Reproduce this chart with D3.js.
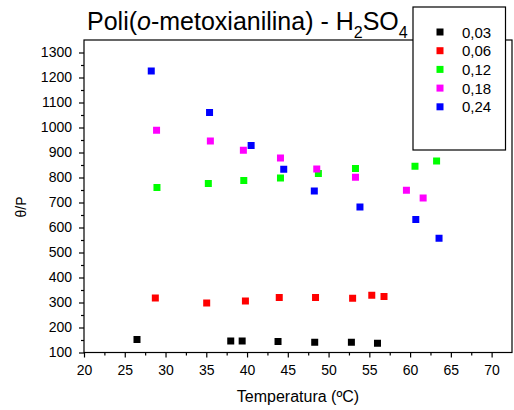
<!DOCTYPE html>
<html><head><meta charset="utf-8">
<script src="https://cdn.jsdelivr.net/npm/d3@7"></script>
<style>body{margin:0;background:#fff;} text{font-family:"Liberation Sans",Arial,sans-serif;}</style>
</head><body><svg id="c" width="514" height="410"></svg>
<script>
const seriesNames = ["0,03","0,06","0,12","0,18","0,24"];
const seriesColors = ["#000000","#ff0000","#00ff00","#ff00ff","#0000ff"];
const temp003 = [26.5,38.0,39.4,43.8,48.3,52.8,56.0];
const val003  = [152,146,146,144,141,141,137];
const temp006 = [28.75,35.05,39.8,43.95,48.4,52.95,55.3,56.8];
const val006  = [318,298,306,320,320,317,329,324];
const temp012 = [28.95,35.25,39.6,44.1,48.75,53.3,60.6,63.25];
const val012  = [760,776,788,798,816,836,845,866];
const temp018 = [28.9,35.5,39.55,44.1,48.55,53.3,59.55,61.6];
const val018  = [989,946,909,878,834,801,749,718];
const temp024 = [28.25,35.4,40.5,44.5,48.25,53.85,60.7,63.55];
const val024  = [1226,1060,928,833,746,682,632,557];
const xTicks = [20,25,30,35,40,45,50,55,60,65,70];
const yTicks = [100,200,300,400,500,600,700,800,900,1000,1100,1200,1300];

const temps = [temp003,temp006,temp012,temp018,temp024];
const vals = [val003,val006,val012,val018,val024];

const svg = d3.select("#c");
const L=84, R=512, T=40, B=352.5;
const x = d3.scaleLinear().domain([20,72.5]).range([L,R]);
const y = d3.scaleLinear().domain([100,1350]).range([B,T]);

// frame
svg.append("rect").attr("x",L).attr("y",T).attr("width",R-L).attr("height",B-T)
  .attr("fill","none").attr("stroke","#000").attr("stroke-width",1.2);

// x axis
const xa = svg.append("g").attr("transform",`translate(0,${B})`)
  .call(d3.axisBottom(x).tickValues(xTicks).tickSize(5).tickPadding(8).tickFormat(d3.format("d")));
xa.select(".domain").remove();
const xm = svg.append("g").attr("transform",`translate(0,${B})`)
  .call(d3.axisBottom(x).tickValues(d3.range(22.5,72.5,5)).tickSize(3).tickFormat(""));
xm.select(".domain").remove();
// y axis
const ya = svg.append("g").attr("transform",`translate(${L},0)`)
  .call(d3.axisLeft(y).tickValues(yTicks).tickSize(5).tickPadding(7).tickFormat(d3.format("d")));
ya.select(".domain").remove();
const ym = svg.append("g").attr("transform",`translate(${L},0)`)
  .call(d3.axisLeft(y).tickValues(d3.range(150,1350,100)).tickSize(3).tickFormat(""));
ym.select(".domain").remove();
svg.selectAll(".tick line").attr("stroke","#000").attr("stroke-width",1.2);
svg.selectAll(".tick text").attr("font-size",14).attr("fill","#000")
  .style("font-family","'Liberation Sans',Arial,sans-serif");

// labels
svg.append("text").attr("x",298).attr("y",402).attr("text-anchor","middle")
  .attr("font-size",16).text("Temperatura (ºC)");
svg.append("text").attr("transform","translate(26,207) rotate(-90)").attr("text-anchor","middle")
  .attr("font-size",14).text("θ/P");

// title
const t = svg.append("text").attr("x",87).attr("y",30).attr("font-size",25);
t.append("tspan").text("Poli(");
t.append("tspan").attr("font-style","italic").text("o");
t.append("tspan").text("-metoxianilina) - H");
t.append("tspan").attr("font-size",16).attr("dy",8).text("2");
t.append("tspan").attr("dy",-8).text("SO");
t.append("tspan").attr("font-size",16).attr("dy",8).text("4");

// points
const ms = 7;
temps.forEach((ts,i)=>{
  svg.append("g").selectAll("rect").data(ts.map((tv,j)=>[tv,vals[i][j]])).join("rect")
    .attr("x",d=>x(d[0])-ms/2).attr("y",d=>y(d[1])-ms/2).attr("width",ms).attr("height",ms)
    .attr("fill",seriesColors[i]);
});

// legend
const lg = svg.append("g");
lg.append("rect").attr("x",413).attr("y",7).attr("width",92.5).attr("height",143)
  .attr("fill","#fff").attr("stroke","#000").attr("stroke-width",1.2);
seriesNames.forEach((n,i)=>{
  const yy = 32 + i*18.7;
  lg.append("rect").attr("x",440-3.5).attr("y",yy-3.5).attr("width",ms).attr("height",ms).attr("fill",seriesColors[i]);
  lg.append("text").attr("x",462).attr("y",yy+5.5).attr("font-size",15).text(n);
});
</script></body></html>
